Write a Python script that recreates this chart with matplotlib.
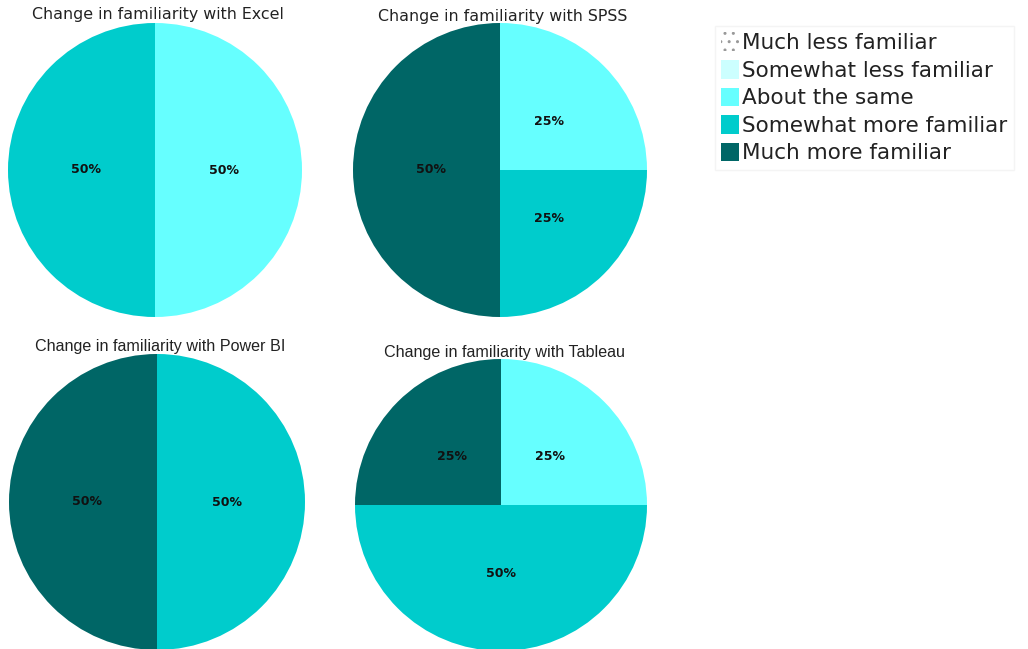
import matplotlib.pyplot as plt
from matplotlib.patches import Patch

plt.rcParams['hatch.linewidth'] = 1.0

categories = ['Much less familiar', 'Somewhat less familiar', 'About the same',
              'Somewhat more familiar', 'Much more familiar']
colors = ['#ffffff', '#ccffff', '#66ffff', '#00cccc', '#006666']

excel = [0, 0, 50, 50, 0]
spss = [0, 0, 25, 25, 50]
powerbi = [0, 0, 0, 50, 50]
tableau = [0, 0, 25, 50, 25]

W, H = 1028, 649
fig = plt.figure(figsize=(W / 100, H / 100), dpi=100)

# (values, title, centre x, centre y, radius, title y, title font)
panels = [
    (excel, 'Change in familiarity with Excel', 155, 170, 147, 15, 'DejaVu Sans'),
    (spss, 'Change in familiarity with SPSS', 500, 170, 147, 16, 'DejaVu Sans'),
    (powerbi, 'Change in familiarity with Power BI', 157, 502, 148, 347, 'Liberation Sans'),
    (tableau, 'Change in familiarity with Tableau', 501, 505, 146, 353, 'Liberation Sans'),
]

for vals, title, cx, cy, r, ty, fam in panels:
    ax = fig.add_axes([(cx - r) / W, (H - cy - r) / H, 2 * r / W, 2 * r / H])
    nz = [(v, c) for v, c in zip(vals, colors) if v > 0]
    ax.pie([v for v, _ in nz], colors=[c for _, c in nz], startangle=90,
           counterclock=False, autopct='%d%%', pctdistance=0.47,
           wedgeprops=dict(linewidth=0),
           textprops=dict(fontsize=9, fontweight='bold', color='#111111'))
    ax.set_xlim(-1, 1)
    ax.set_ylim(-1, 1)
    ax.set_aspect('equal')
    ax.axis('off')
    size = 11.4 if fam == 'DejaVu Sans' else 11.6
    fig.text(cx / W + 0.003, 1 - ty / H, title, ha='center', va='center',
             fontsize=size, family=fam, color='#222222')

handles = []
for cat, col in zip(categories, colors):
    if cat == 'Much less familiar':
        handles.append(Patch(facecolor='white', edgecolor='#999999', hatch='..',
                             linewidth=0, label=cat))
    else:
        handles.append(Patch(facecolor=col, edgecolor='none', label=cat))

leg = fig.legend(handles=handles, loc='upper left', bbox_to_anchor=(715 / W, 1 - 26 / H),
                 fontsize=15.5, frameon=True, handlelength=0.8, handleheight=0.95,
                 handletextpad=0.15, labelspacing=0.32, borderpad=0.3,
                 borderaxespad=0, fancybox=False, edgecolor='#f2f2f2')
for t in leg.get_texts():
    t.set_color('#222222')

fig.savefig('out.png', dpi=100, facecolor='white')
